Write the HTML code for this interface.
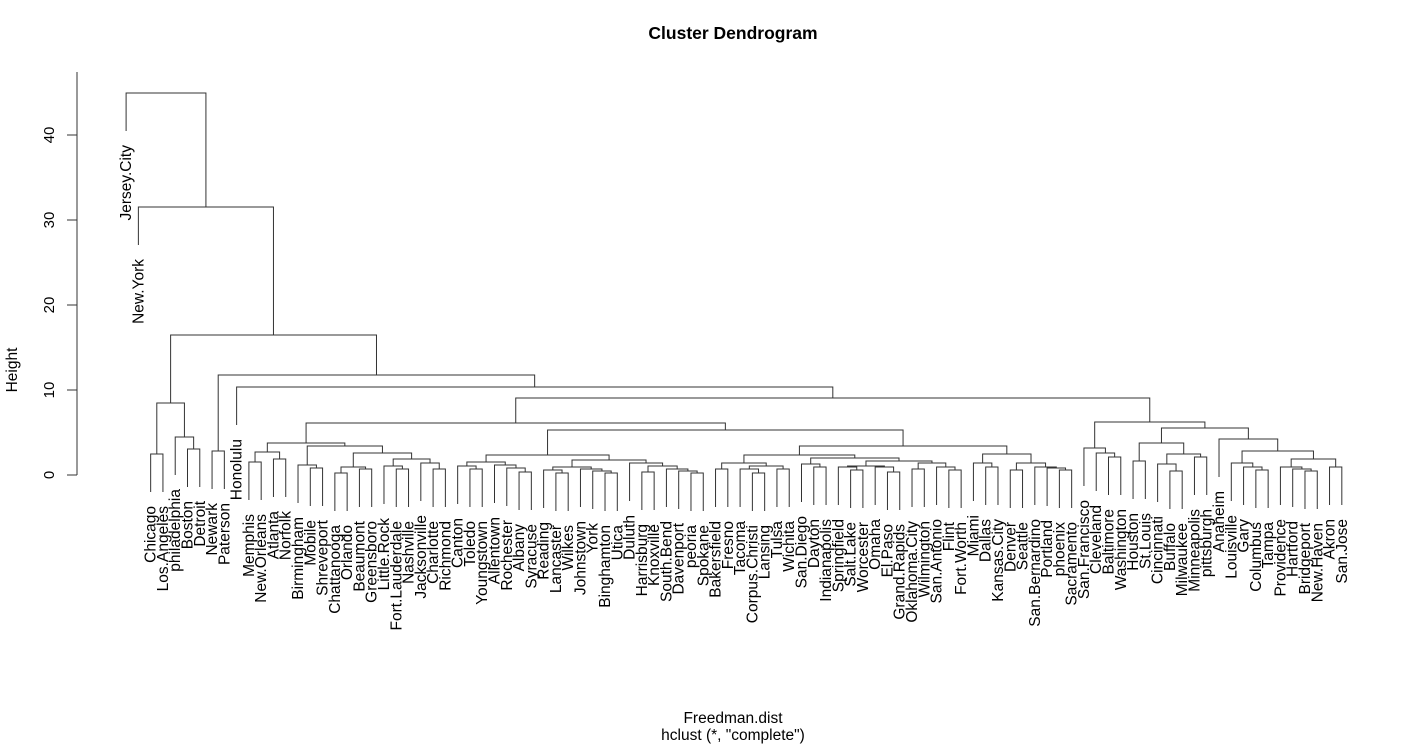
<!DOCTYPE html>
<html><head><meta charset="utf-8"><style>
html,body{margin:0;padding:0;background:#fff;}
svg{display:block;}
text{font-family:"Liberation Sans",Arial,sans-serif;fill:#000;}
.lb{font-size:15.5px;}
</style></head><body>
<svg width="1427" height="744" viewBox="0 0 1427 744" xmlns="http://www.w3.org/2000/svg">
<text x="733" y="39" text-anchor="middle" style="font-size:17.5px;font-weight:bold">Cluster Dendrogram</text>
<text x="733" y="723" text-anchor="middle" style="font-size:15.5px">Freedman.dist</text>
<text x="733" y="740" text-anchor="middle" style="font-size:15.5px">hclust (*, "complete")</text>
<text transform="translate(17,370) rotate(-90)" text-anchor="middle" style="font-size:15.5px">Height</text>
<g stroke="#333" stroke-width="1" fill="none">
<path d="M77 72V475M67 475H77M67 390H77M67 305H77M67 220H77M67 135H77"/>
</g>
<g style="font-size:15px" text-anchor="middle">
<text transform="translate(54,475) rotate(-90)">0</text>
<text transform="translate(54,390) rotate(-90)">10</text>
<text transform="translate(54,305) rotate(-90)">20</text>
<text transform="translate(54,220) rotate(-90)">30</text>
<text transform="translate(54,135) rotate(-90)">40</text>
</g>
<g transform="translate(126.1,0) scale(12.28,1)" stroke="#333" stroke-width="1" fill="none">
<path vector-effect="non-scaling-stroke" d="
M2 492V454H3V492
M5 487V449H6V487
M4 475V437H5.5V449
M2.5 454V403H4.75V437
M7 489V451H8V489
M10 500V462H11V500
M12 497V459H13V497
M10.5 462V452H12.5V459
M15 506V468H16V506
M14 503V465H15.5V468
M17 511V473H18V511
M19 507V469H20V507
M17.5 473V467H19.5V469
M22 507V469H23V507
M21 504V466H22.5V469
M25 507V469H26V507
M24 501V463H25.5V469
M21.75 466V459H24.75V463
M18.5 467V453H23.25V459
M14.75 465V446H20.875V453
M11.5 452V443H17.8125V446
M28 507V469H29V507
M27 504V466H28.5V469
M32 510V472H33V510
M31 506V468H32.5V472
M30 503V465H31.75V468
M27.75 466V462H30.875V465
M35 511V473H36V511
M34 508V470H35.5V473
M39 511V473H40V511
M38 509V471H39.5V473
M37 507V469H38.75V471
M34.75 470V467H37.875V469
M42 510V472H43V510
M46 511V473H47V511
M45 509V471H46.5V473
M44 507V469H45.75V471
M42.5 472V466H44.875V469
M41 501V463H43.6875V466
M36.3125 467V460H42.34V463
M29.3125 462V455H39.33V460
M48 507V469H49V507
M51 511V473H52V511
M50 507V469H51.5V473
M53 507V469H54V507
M50.75 469V466H53.5V469
M48.5 469V463H52.125V466
M56 505V467H57V505
M55 502V464H56.5V467
M59 508V470H60V508
M58 505V467H59.5V470
M62 510V472H63V510
M61 505V467H62.5V472
M58.75 467V466H61.75V467
M64 507V469H65V507
M67 508V470H68V508
M66 505V467H67.5V470
M64.5 469V463H66.75V467
M60.25 466V461H65.625V463
M55.75 464V458H62.94V461
M50.3125 463V455H59.34V458
M70 505V467H71V505
M69 501V463H70.5V467
M72 508V470H73V508
M76 508V470H77V508
M75 506V468H76.5V470
M74 505V467H75.75V468
M72.5 470V463H74.875V467
M69.75 463V454H73.69V463
M54.83 455V446H71.72V454
M34.32 455V430H63.27V446
M14.656 443V423H48.8V430
M80 495V457H81V495
M79 491V453H80.5V457
M78 486V448H79.75V453
M82 499V461H83V499
M85 509V471H86V509
M84 502V464H85.5V471
M87 495V457H88V495
M84.75 464V454H87.5V457
M82.5 461V443H86.125V454
M92 508V470H93V508
M91 505V467H92.5V470
M90 501V463H91.75V467
M96 509V471H97V509
M95 507V469H96.5V471
M94 505V467H95.75V469
M98 505V467H99V505
M94.875 467V459H98.5V467
M90.875 463V451H96.69V459
M89 477V439H93.78V451
M84.3125 443V428H91.39V439
M78.875 448V422H87.85V428
M31.73 423V398H83.36V422
M9 425V387H57.55V398
M7.5 451V375H33.27V387
M3.625 403V335H20.39V375
M1 245V207H12V335
M0 131V93H6.5V207
"/>
</g>
<g class="lb" text-anchor="end">
<text transform="translate(131.1,145) rotate(-90)">Jersey.City</text>
<text transform="translate(143.4,259) rotate(-90)">New.York</text>
<text transform="translate(155.7,506) rotate(-90)">Chicago</text>
<text transform="translate(167.9,506) rotate(-90)">Los.Angeles</text>
<text transform="translate(180.2,489) rotate(-90)">philadelphia</text>
<text transform="translate(192.5,501) rotate(-90)">Boston</text>
<text transform="translate(204.8,501) rotate(-90)">Detroit</text>
<text transform="translate(217.1,503) rotate(-90)">Newark</text>
<text transform="translate(229.3,503) rotate(-90)">Paterson</text>
<text transform="translate(241.6,439) rotate(-90)">Honolulu</text>
<text transform="translate(253.9,514) rotate(-90)">Memphis</text>
<text transform="translate(266.2,514) rotate(-90)">New.Orleans</text>
<text transform="translate(278.5,511) rotate(-90)">Atlanta</text>
<text transform="translate(290.7,511) rotate(-90)">Norfolk</text>
<text transform="translate(303.0,517) rotate(-90)">Birmingham</text>
<text transform="translate(315.3,520) rotate(-90)">Mobile</text>
<text transform="translate(327.6,520) rotate(-90)">Shreveport</text>
<text transform="translate(339.9,525) rotate(-90)">Chattanooga</text>
<text transform="translate(352.1,525) rotate(-90)">Orlando</text>
<text transform="translate(364.4,521) rotate(-90)">Beaumont</text>
<text transform="translate(376.7,521) rotate(-90)">Greensboro</text>
<text transform="translate(389.0,518) rotate(-90)">Little.Rock</text>
<text transform="translate(401.3,521) rotate(-90)">Fort.Lauderdale</text>
<text transform="translate(413.5,521) rotate(-90)">Nashville</text>
<text transform="translate(425.8,515) rotate(-90)">Jacksonville</text>
<text transform="translate(438.1,521) rotate(-90)">Charlotte</text>
<text transform="translate(450.4,521) rotate(-90)">Richmond</text>
<text transform="translate(462.7,518) rotate(-90)">Canton</text>
<text transform="translate(474.9,521) rotate(-90)">Toledo</text>
<text transform="translate(487.2,521) rotate(-90)">Youngstown</text>
<text transform="translate(499.5,517) rotate(-90)">Allentown</text>
<text transform="translate(511.8,520) rotate(-90)">Rochester</text>
<text transform="translate(524.1,524) rotate(-90)">Albany</text>
<text transform="translate(536.3,524) rotate(-90)">Syracuse</text>
<text transform="translate(548.6,522) rotate(-90)">Reading</text>
<text transform="translate(560.9,525) rotate(-90)">Lancaster</text>
<text transform="translate(573.2,525) rotate(-90)">Wilkes</text>
<text transform="translate(585.5,521) rotate(-90)">Johnstown</text>
<text transform="translate(597.7,523) rotate(-90)">York</text>
<text transform="translate(610.0,525) rotate(-90)">Binghamton</text>
<text transform="translate(622.3,525) rotate(-90)">Utica</text>
<text transform="translate(634.6,515) rotate(-90)">Duluth</text>
<text transform="translate(646.9,524) rotate(-90)">Harrisburg</text>
<text transform="translate(659.1,524) rotate(-90)">Knoxville</text>
<text transform="translate(671.4,521) rotate(-90)">South.Bend</text>
<text transform="translate(683.7,523) rotate(-90)">Davenport</text>
<text transform="translate(696.0,525) rotate(-90)">peoria</text>
<text transform="translate(708.3,525) rotate(-90)">Spokane</text>
<text transform="translate(720.5,521) rotate(-90)">Bakersfield</text>
<text transform="translate(732.8,521) rotate(-90)">Fresno</text>
<text transform="translate(745.1,521) rotate(-90)">Tacoma</text>
<text transform="translate(757.4,525) rotate(-90)">Corpus.Christi</text>
<text transform="translate(769.7,525) rotate(-90)">Lansing</text>
<text transform="translate(781.9,521) rotate(-90)">Tulsa</text>
<text transform="translate(794.2,521) rotate(-90)">Wichita</text>
<text transform="translate(806.5,516) rotate(-90)">San.Diego</text>
<text transform="translate(818.8,519) rotate(-90)">Dayton</text>
<text transform="translate(831.1,519) rotate(-90)">Indianapolis</text>
<text transform="translate(843.3,519) rotate(-90)">Springfield</text>
<text transform="translate(855.6,522) rotate(-90)">Salt.Lake</text>
<text transform="translate(867.9,522) rotate(-90)">Worcester</text>
<text transform="translate(880.2,519) rotate(-90)">Omaha</text>
<text transform="translate(892.5,524) rotate(-90)">El.Paso</text>
<text transform="translate(904.7,524) rotate(-90)">Grand.Rapids</text>
<text transform="translate(917.0,521) rotate(-90)">Oklahoma.City</text>
<text transform="translate(929.3,521) rotate(-90)">Wilmington</text>
<text transform="translate(941.6,519) rotate(-90)">San.Antonio</text>
<text transform="translate(953.9,522) rotate(-90)">Flint</text>
<text transform="translate(966.1,522) rotate(-90)">Fort.Worth</text>
<text transform="translate(978.4,515) rotate(-90)">Miami</text>
<text transform="translate(990.7,519) rotate(-90)">Dallas</text>
<text transform="translate(1003.0,519) rotate(-90)">Kansas.City</text>
<text transform="translate(1015.3,522) rotate(-90)">Denver</text>
<text transform="translate(1027.5,522) rotate(-90)">Seattle</text>
<text transform="translate(1039.8,519) rotate(-90)">San.Bernardino</text>
<text transform="translate(1052.1,520) rotate(-90)">Portland</text>
<text transform="translate(1064.4,522) rotate(-90)">phoenix</text>
<text transform="translate(1076.7,522) rotate(-90)">Sacramento</text>
<text transform="translate(1088.9,500) rotate(-90)">San.Francisco</text>
<text transform="translate(1101.2,505) rotate(-90)">Cleveland</text>
<text transform="translate(1113.5,509) rotate(-90)">Baltimore</text>
<text transform="translate(1125.8,509) rotate(-90)">Washington</text>
<text transform="translate(1138.1,513) rotate(-90)">Houston</text>
<text transform="translate(1150.3,513) rotate(-90)">St.Louis</text>
<text transform="translate(1162.6,516) rotate(-90)">Cincinnati</text>
<text transform="translate(1174.9,523) rotate(-90)">Buffalo</text>
<text transform="translate(1187.2,523) rotate(-90)">Milwaukee</text>
<text transform="translate(1199.5,509) rotate(-90)">Minneapolis</text>
<text transform="translate(1211.7,509) rotate(-90)">pittsburgh</text>
<text transform="translate(1224.0,491) rotate(-90)">Anaheim</text>
<text transform="translate(1236.3,515) rotate(-90)">Louisville</text>
<text transform="translate(1248.6,519) rotate(-90)">Gary</text>
<text transform="translate(1260.9,522) rotate(-90)">Columbus</text>
<text transform="translate(1273.1,522) rotate(-90)">Tampa</text>
<text transform="translate(1285.4,519) rotate(-90)">Providence</text>
<text transform="translate(1297.7,521) rotate(-90)">Hartford</text>
<text transform="translate(1310.0,523) rotate(-90)">Bridgeport</text>
<text transform="translate(1322.3,523) rotate(-90)">New.Haven</text>
<text transform="translate(1334.5,519) rotate(-90)">Akron</text>
<text transform="translate(1346.8,519) rotate(-90)">San.Jose</text>
</g>
</svg>
</body></html>
